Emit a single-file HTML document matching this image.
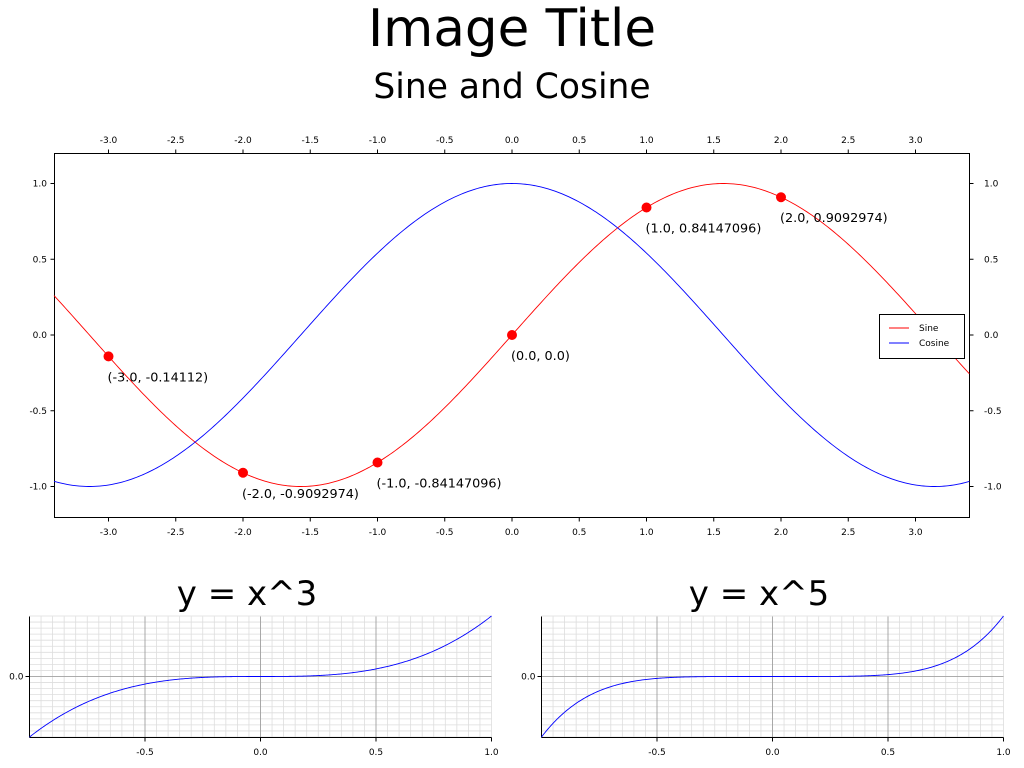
<!DOCTYPE html>
<html><head><meta charset="utf-8"><style>
html,body{margin:0;padding:0;background:#fff;width:1024px;height:768px;overflow:hidden}
svg{display:block;font-family:"DejaVu Sans","Liberation Sans",sans-serif}
</style></head><body>
<svg id="s" width="1024" height="768" xmlns="http://www.w3.org/2000/svg">
<text x="512" y="46" font-size="51.5" text-anchor="middle">Image Title</text>
<text x="512" y="98" font-size="34.5" text-anchor="middle">Sine and Cosine</text>
<text x="247" y="605" font-size="34" text-anchor="middle">y = x^3</text>
<text x="759" y="605" font-size="34" text-anchor="middle">y = x^5</text>
<g id="g"></g>
</svg>
<script>
const NS="http://www.w3.org/2000/svg",g=document.getElementById('g');
function el(t,a,txt){const e=document.createElementNS(NS,t);for(const k in a)e.setAttribute(k,a[k]);if(txt!==undefined)e.textContent=txt;g.appendChild(e);return e;}
const L=54.5,R=969.5,T=153.5,B=517.5;
const X=x=>512+x*134.5, Y=y=>335-y*151.5;
el('rect',{x:L,y:T,width:R-L,height:B-T,fill:'none',stroke:'#000'});
for(let i=-6;i<=6;i++){const v=i*0.5,x=X(v);const lab=v.toFixed(1);
 el('line',{x1:x,y1:T,x2:x,y2:T-4,stroke:'#000'});el('line',{x1:x,y1:B,x2:x,y2:B+4,stroke:'#000'});
 el('text',{x:x,y:143,'font-size':9,'text-anchor':'middle'},lab);
 el('text',{x:x,y:535,'font-size':9,'text-anchor':'middle'},lab);}
for(let i=-2;i<=2;i++){const v=i*0.5,y=Y(v);const lab=v.toFixed(1);
 el('line',{x1:L,y1:y,x2:L-4,y2:y,stroke:'#000'});el('line',{x1:R,y1:y,x2:R+4,y2:y,stroke:'#000'});
 el('text',{x:47,y:y+3,'font-size':9,'text-anchor':'end'},lab);
 el('text',{x:984,y:y+3,'font-size':9},lab);}
function path(f,x0,x1,Xf,Yf,col){let d='';for(let i=0;i<=400;i++){const x=x0+(x1-x0)*i/400;d+=(i?'L':'M')+Xf(x).toFixed(2)+','+Yf(f(x)).toFixed(2);}el('path',{d:d,fill:'none',stroke:col,'stroke-width':0.9});}
path(Math.sin,-3.405,3.4,X,Y,'#f00');
path(Math.cos,-3.405,3.4,X,Y,'#00f');
[[-3,'(-3.0, -0.14112)'],[-2,'(-2.0, -0.9092974)'],[-1,'(-1.0, -0.84147096)'],[0,'(0.0, 0.0)'],[1,'(1.0, 0.84147096)'],[2,'(2.0, 0.9092974)']].forEach(([x,t])=>{
 el('circle',{cx:X(x),cy:Y(Math.sin(x)),r:5,fill:'#f00'});
 el('text',{x:X(x)-1,y:Y(Math.sin(x))+25,'font-size':12.8},t);});
el('rect',{x:879.5,y:314.5,width:85,height:44,fill:'#fff',stroke:'#000'});
el('line',{x1:889,y1:328,x2:909,y2:328,stroke:'#f00'});
el('line',{x1:889,y1:343,x2:909,y2:343,stroke:'#00f'});
el('text',{x:919,y:331,'font-size':9},'Sine');
el('text',{x:919,y:346,'font-size':9},'Cosine');
function small(l,p){const r=l+462,t=616.5,b=737.5;
 const sx=x=>l+(x+1)*231,sy=y=>676.5-y*60.5;
 for(let i=-20;i<=20;i++){const x=sx(i*0.05);el('line',{x1:x,y1:t,x2:x,y2:b,stroke:'#ddd','stroke-width':0.8});}
 for(let i=-10;i<=10;i++){const y=sy(i*0.1);el('line',{x1:l,y1:y,x2:r,y2:y,stroke:'#ddd','stroke-width':0.8});}
 [-0.5,0,0.5].forEach(v=>{const x=sx(v);el('line',{x1:x,y1:t,x2:x,y2:b,stroke:'#999','stroke-width':0.8});});
 el('line',{x1:l,y1:sy(0),x2:r,y2:sy(0),stroke:'#999','stroke-width':0.8});
 el('line',{x1:l,y1:t,x2:l,y2:b,stroke:'#000'});el('line',{x1:l,y1:b,x2:r,y2:b,stroke:'#000'});
 el('line',{x1:l,y1:sy(0),x2:l-4,y2:sy(0),stroke:'#000'});
 el('text',{x:l-6,y:sy(0)+3,'font-size':9,'text-anchor':'end'},'0.0');
 [-0.5,0,0.5,1].forEach(v=>{const x=sx(v);el('line',{x1:x,y1:b,x2:x,y2:b+4,stroke:'#000'});el('text',{x:x,y:755,'font-size':9,'text-anchor':'middle'},v.toFixed(1));});
 path(x=>Math.pow(x,p),-1,1,sx,sy,'#00f');}
small(29.5,3);small(541.5,5);
</script>
</body></html>
